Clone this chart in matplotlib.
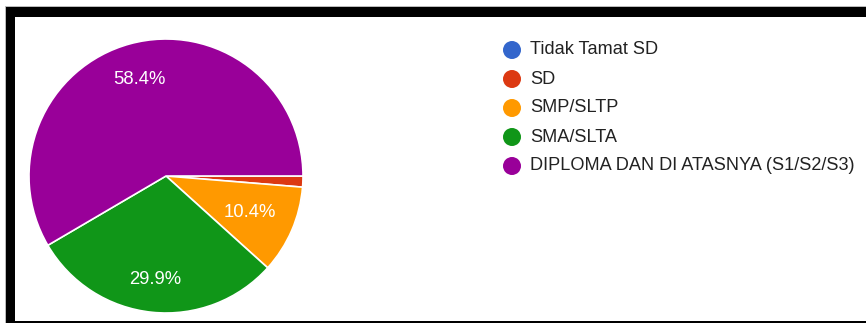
import matplotlib
matplotlib.use("Agg")
import matplotlib.pyplot as plt
from matplotlib.patches import Rectangle, Circle
import numpy as np

# response counts per education level
categories = [
    "Tidak Tamat SD",
    "SD",
    "SMP/SLTP",
    "SMA/SLTA",
    "DIPLOMA DAN DI ATASNYA (S1/S2/S3)",
]
counts = [0, 1, 8, 23, 45]
colors = ["#3366CC", "#DC3912", "#FF9900", "#109618", "#990099"]
# how far out (fraction of radius) each percentage label sits
label_dist = [0.75, 0.75, 0.67, 0.76, 0.73]

W, H = 866, 323
plt.rcParams["font.family"] = ["Liberation Sans", "DejaVu Sans"]

fig = plt.figure(figsize=(W / 100, H / 100), dpi=100)
fig.patch.set_facecolor("white")

# overlay axes in pixel units for the frame and legend
bg = fig.add_axes([0, 0, 1, 1])
bg.set_xlim(0, W)
bg.set_ylim(H, 0)
bg.axis("off")

# thick black frame (top, left, bottom)
bg.add_patch(Rectangle((5, 6), W, 1, color="#bbbbbb", lw=0))
bg.add_patch(Rectangle((5, 6), 1, H, color="#bbbbbb", lw=0))
bg.add_patch(Rectangle((6, 7), W, 10, color="black", lw=0))
bg.add_patch(Rectangle((6, 7), 8.5, H, color="black", lw=0))
bg.add_patch(Rectangle((6, 320.5), W, 2.5, color="black", lw=0))

# pie
cx, cy, r = 166, 176, 137
ax = fig.add_axes([(cx - r) / W, 1 - (cy + r) / H, 2 * r / W, 2 * r / H])
total = sum(counts)
wedges, _ = ax.pie(
    counts,
    colors=colors,
    startangle=0,
    counterclock=False,
    radius=1,
    wedgeprops=dict(edgecolor="white", linewidth=1.2),
)
for w, c, d in zip(wedges, counts, label_dist):
    pct = 100 * c / total
    if pct < 5:
        continue
    theta = np.deg2rad((w.theta1 + w.theta2) / 2)
    ax.text(d * np.cos(theta), d * np.sin(theta), f"{pct:.1f}%",
            ha="center", va="center", color="white", fontsize=13.3)
ax.set_xlim(-1, 1)
ax.set_ylim(-1, 1)
ax.set_aspect("equal")
ax.axis("off")

# legend
for i, (name, col) in enumerate(zip(categories, colors)):
    y = 50 + i * 29
    bg.add_patch(Circle((512, y), 9, color=col, lw=0))
    bg.text(530, y, name, ha="left", va="center", color="#222222", fontsize=13.1)

fig.savefig("out.png", dpi=100)
